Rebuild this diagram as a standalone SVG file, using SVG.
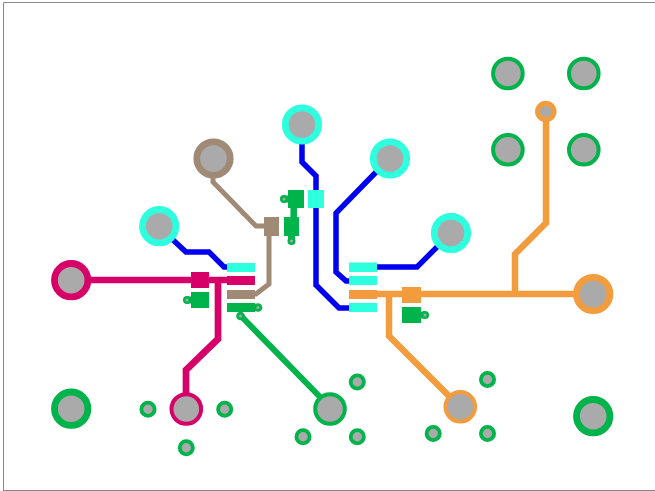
<svg xmlns="http://www.w3.org/2000/svg" width="655" height="491" viewBox="0 0 655 491">
<style>
.mag{stroke:#d60068;fill:#d60068}.bro{stroke:#a08a76;fill:#a08a76}.grn{stroke:#00b34a;fill:#00b34a}.blu{stroke:#0000f0;fill:none}.ora{stroke:#f29c3e;fill:#f29c3e}.cya{stroke:#2effde;fill:#2effde}
.t{fill:none;stroke-linejoin:miter;stroke-linecap:butt}
.h{fill:#aaaaaa}.p{stroke:none}
.big{fill:#aaaaaa;stroke-width:6.800}.mid{fill:#aaaaaa;stroke-width:4}.sm{fill:#aaaaaa;stroke-width:3.800}
</style>
<rect x="0" y="0" width="655" height="491" fill="#fff"/>
<path d="M3.500 491V2.500H655M3 490.500H655" fill="none" stroke="#888" stroke-width="1"/>
<g id="connectors">
<path class="blu t" stroke-width="5.500" d="M172 239L186 252H209L224 267H230"/>
<path class="blu t" stroke-width="5.500" d="M302 140V162L316 176V285L339 308H352"/>
<path class="blu t" stroke-width="5.500" d="M380 168L336 213V272L346 281H352"/>
<path class="blu t" stroke-width="5.500" d="M352 267H417L441 243"/>
<path class="bro t" stroke-width="5" d="M213 175V182L256 226H268"/>
<path class="bro t" stroke-width="5" d="M269 226V284L256 294H240"/>
<path class="mag t" stroke-width="6.700" d="M71 280H240"/>
<path class="mag t" stroke-width="6.700" d="M218 280V339L186 370V400"/>
<path class="grn t" stroke-width="6" d="M240 315L322 399"/>
<path class="ora t" stroke-width="6.500" d="M360 294H593"/>
<path class="ora t" stroke-width="6.500" d="M389 294V336L452 399"/>
<path class="ora t" stroke-width="6.500" d="M515 294V254L546 223V118"/>
<path class="grn t" stroke-width="6.500" d="M293.700 205V222"/>
</g>
<g id="pad-left-1"><rect class="cya p" x="227" y="263" width="28" height="9"/></g>
<g id="pad-left-2"><rect class="mag p" x="227" y="276" width="28" height="9"/></g>
<g id="pad-left-3"><rect class="bro p" x="227" y="290" width="28" height="9"/></g>
<g id="pad-left-4"><rect class="grn p" x="227" y="303" width="28" height="9"/><rect class="grn p" x="254" y="304.500" width="4" height="6"/><circle class="grn p" cx="258" cy="307.500" r="4.300"/><circle class="h" cx="258" cy="307.500" r="1.500"/><circle class="grn p" cx="240.500" cy="316" r="4.300"/><circle class="h" cx="240.500" cy="316" r="1.500"/></g>
<g id="pad-right-1"><rect class="cya p" x="349" y="262.500" width="28" height="9.500"/></g>
<g id="pad-right-2"><rect class="cya p" x="349" y="276" width="28" height="9"/></g>
<g id="pad-right-3"><rect class="ora p" x="349" y="290" width="28" height="9"/></g>
<g id="pad-right-4"><rect class="cya p" x="349" y="303" width="28" height="9"/></g>
<g id="smd-magenta"><rect class="mag p" x="191" y="272" width="18" height="16"/></g>
<g id="smd-green-left"><rect class="grn p" x="191" y="292" width="18" height="16"/><circle class="grn p" cx="187" cy="300" r="4"/><rect class="grn p" x="187" y="296.500" width="5" height="7"/><circle class="h" cx="187" cy="300" r="1.500"/></g>
<g id="smd-brown"><rect class="bro p" x="264" y="217" width="15" height="19"/></g>
<g id="smd-cyan"><rect class="cya p" x="308" y="190" width="16" height="18"/></g>
<g id="smd-green-top"><rect class="grn p" x="288" y="190" width="16" height="18"/><circle class="grn p" cx="284" cy="199" r="4"/><rect class="grn p" x="284" y="195.500" width="5" height="7"/><circle class="h" cx="284" cy="199" r="1.500"/></g>
<g id="smd-green-mid"><rect class="grn p" x="284" y="217" width="15" height="19"/><circle class="grn p" cx="291.500" cy="241" r="4"/><rect class="grn p" x="288" y="235" width="7" height="6"/><circle class="h" cx="291.500" cy="241" r="1.500"/></g>
<g id="smd-orange"><rect class="ora p" x="402" y="287" width="19" height="16"/></g>
<g id="smd-green-right"><rect class="grn p" x="402" y="307" width="19" height="16"/><circle class="grn p" cx="425" cy="315" r="4"/><rect class="grn p" x="420" y="311.500" width="5" height="7"/><circle class="h" cx="425" cy="315" r="1.500"/></g>
<g id="via-1"><circle class="big cya" cx="159.200" cy="226.200" r="16.700"/></g>
<g id="via-2"><circle class="big cya" cx="302" cy="124.500" r="16.700"/></g>
<g id="via-3"><circle class="big cya" cx="390" cy="158.500" r="16.700"/></g>
<g id="via-4"><circle class="big cya" cx="451" cy="233" r="16.700"/></g>
<g id="via-5"><circle class="big bro" cx="213.500" cy="158.500" r="16.700"/></g>
<g id="via-6"><circle class="big mag" cx="71.200" cy="280.200" r="16.700"/></g>
<g id="via-7"><circle class="big ora" cx="593.200" cy="294" r="16.700"/></g>
<g id="via-8"><circle class="big grn" cx="71.200" cy="408.700" r="16.700"/></g>
<g id="via-9"><circle class="big grn" cx="593.200" cy="416.200" r="16.700"/></g>
<g id="hole-1"><circle class="mid grn" cx="507.900" cy="73.500" r="14.800"/></g>
<g id="hole-2"><circle class="mid grn" cx="583.800" cy="73.500" r="14.800"/></g>
<g id="hole-3"><circle class="mid grn" cx="507.900" cy="149.800" r="14.800"/></g>
<g id="hole-4"><circle class="mid grn" cx="583.800" cy="149.800" r="14.800"/></g>
<g id="via-orange-top"><circle class="h ora" stroke-width="5" cx="545.800" cy="111.500" r="8.250"/></g>
<g id="pin-magenta"><circle class="mid mag" cx="186.300" cy="409" r="14.800"/></g>
<g id="pin-green"><circle class="mid grn" cx="330" cy="409" r="14.800"/></g>
<g id="pin-orange"><circle class="mid ora" cx="460.300" cy="406.800" r="14.800"/></g>
<g id="s1"><circle class="sm grn" cx="148" cy="409.300" r="6.600"/></g>
<g id="s2"><circle class="sm grn" cx="224.700" cy="409.300" r="6.600"/></g>
<g id="s3"><circle class="sm grn" cx="186.300" cy="447.700" r="6.600"/></g>
<g id="s4"><circle class="sm grn" cx="357.300" cy="382" r="6.600"/></g>
<g id="s5"><circle class="sm grn" cx="303" cy="436.700" r="6.600"/></g>
<g id="s6"><circle class="sm grn" cx="357.300" cy="436.700" r="6.600"/></g>
<g id="s7"><circle class="sm grn" cx="487.500" cy="379.500" r="6.600"/></g>
<g id="s8"><circle class="sm grn" cx="433.200" cy="433.500" r="6.600"/></g>
<g id="s9"><circle class="sm grn" cx="487.500" cy="433.500" r="6.600"/></g>
</svg>
